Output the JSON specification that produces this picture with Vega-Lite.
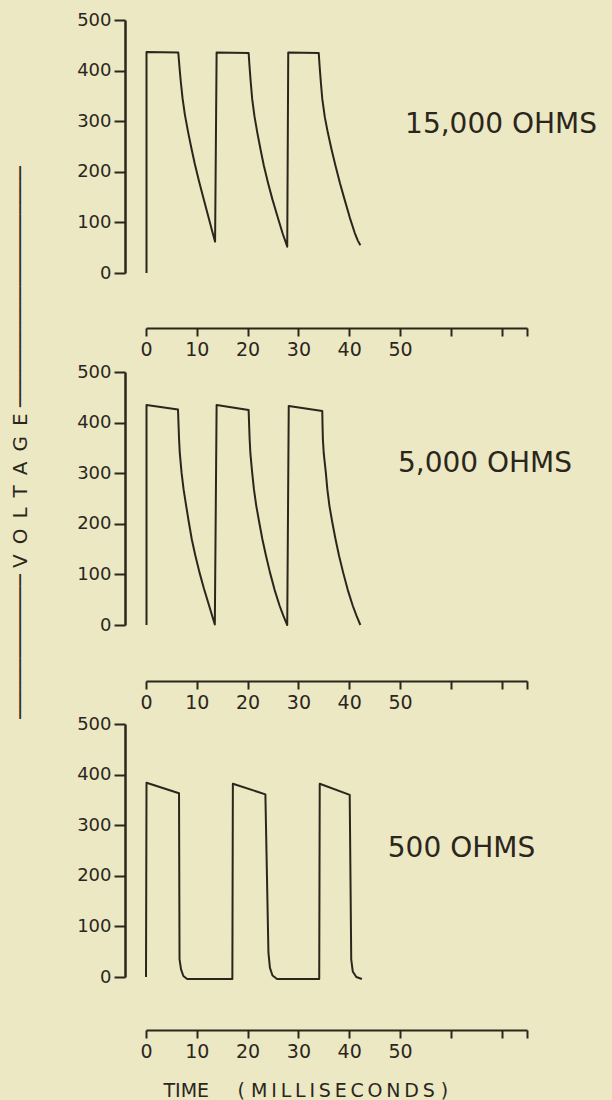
{
  "$schema": "https://vega.github.io/schema/vega-lite/v6.json",
  "autosize": {"type": "none"},
  "padding": {"left": 146, "top": 20, "right": 466, "bottom": 1080},
  "background": "#ebe8c3",
  "data": {"values": [
    {"panel": "15,000 OHMS", "i": 1, "t": 0.1, "v": 0},
    {"panel": "15,000 OHMS", "i": 2, "t": 0.1, "v": 437},
    {"panel": "15,000 OHMS", "i": 3, "t": 6.35, "v": 436},
    {"panel": "15,000 OHMS", "i": 4, "t": 6.5, "v": 418},
    {"panel": "15,000 OHMS", "i": 5, "t": 6.65, "v": 400},
    {"panel": "15,000 OHMS", "i": 6, "t": 6.85, "v": 378},
    {"panel": "15,000 OHMS", "i": 7, "t": 7.2, "v": 345},
    {"panel": "15,000 OHMS", "i": 8, "t": 7.65, "v": 313},
    {"panel": "15,000 OHMS", "i": 9, "t": 8.3, "v": 278},
    {"panel": "15,000 OHMS", "i": 10, "t": 8.95, "v": 246},
    {"panel": "15,000 OHMS", "i": 11, "t": 9.6, "v": 216},
    {"panel": "15,000 OHMS", "i": 12, "t": 10.45, "v": 181},
    {"panel": "15,000 OHMS", "i": 13, "t": 11.3, "v": 148},
    {"panel": "15,000 OHMS", "i": 14, "t": 12.2, "v": 114},
    {"panel": "15,000 OHMS", "i": 15, "t": 13.1, "v": 80},
    {"panel": "15,000 OHMS", "i": 16, "t": 13.6, "v": 62},
    {"panel": "15,000 OHMS", "i": 17, "t": 13.9, "v": 436},
    {"panel": "15,000 OHMS", "i": 18, "t": 20.2, "v": 435},
    {"panel": "15,000 OHMS", "i": 19, "t": 20.32, "v": 417},
    {"panel": "15,000 OHMS", "i": 20, "t": 20.45, "v": 399},
    {"panel": "15,000 OHMS", "i": 21, "t": 20.62, "v": 377},
    {"panel": "15,000 OHMS", "i": 22, "t": 20.9, "v": 344},
    {"panel": "15,000 OHMS", "i": 23, "t": 21.35, "v": 310},
    {"panel": "15,000 OHMS", "i": 24, "t": 21.9, "v": 278},
    {"panel": "15,000 OHMS", "i": 25, "t": 22.55, "v": 244},
    {"panel": "15,000 OHMS", "i": 26, "t": 23.2, "v": 212},
    {"panel": "15,000 OHMS", "i": 27, "t": 24.05, "v": 177},
    {"panel": "15,000 OHMS", "i": 28, "t": 24.9, "v": 145},
    {"panel": "15,000 OHMS", "i": 29, "t": 25.9, "v": 111},
    {"panel": "15,000 OHMS", "i": 30, "t": 26.9, "v": 78},
    {"panel": "15,000 OHMS", "i": 31, "t": 27.4, "v": 64},
    {"panel": "15,000 OHMS", "i": 32, "t": 27.8, "v": 52},
    {"panel": "15,000 OHMS", "i": 33, "t": 28.0, "v": 436},
    {"panel": "15,000 OHMS", "i": 34, "t": 34.0, "v": 435},
    {"panel": "15,000 OHMS", "i": 35, "t": 34.12, "v": 417},
    {"panel": "15,000 OHMS", "i": 36, "t": 34.25, "v": 399},
    {"panel": "15,000 OHMS", "i": 37, "t": 34.42, "v": 377},
    {"panel": "15,000 OHMS", "i": 38, "t": 34.7, "v": 344},
    {"panel": "15,000 OHMS", "i": 39, "t": 35.2, "v": 308},
    {"panel": "15,000 OHMS", "i": 40, "t": 35.8, "v": 277},
    {"panel": "15,000 OHMS", "i": 41, "t": 36.55, "v": 243},
    {"panel": "15,000 OHMS", "i": 42, "t": 37.3, "v": 212},
    {"panel": "15,000 OHMS", "i": 43, "t": 38.2, "v": 177},
    {"panel": "15,000 OHMS", "i": 44, "t": 39.1, "v": 145},
    {"panel": "15,000 OHMS", "i": 45, "t": 40.1, "v": 110},
    {"panel": "15,000 OHMS", "i": 46, "t": 41.1, "v": 79},
    {"panel": "15,000 OHMS", "i": 47, "t": 41.7, "v": 64},
    {"panel": "15,000 OHMS", "i": 48, "t": 42.2, "v": 55},

    {"panel": "5,000 OHMS", "i": 1, "t": 0.1, "v": 0},
    {"panel": "5,000 OHMS", "i": 2, "t": 0.1, "v": 435},
    {"panel": "5,000 OHMS", "i": 3, "t": 6.3, "v": 426},
    {"panel": "5,000 OHMS", "i": 4, "t": 6.4, "v": 397},
    {"panel": "5,000 OHMS", "i": 5, "t": 6.5, "v": 369},
    {"panel": "5,000 OHMS", "i": 6, "t": 6.65, "v": 340},
    {"panel": "5,000 OHMS", "i": 7, "t": 7.0, "v": 301},
    {"panel": "5,000 OHMS", "i": 8, "t": 7.4, "v": 268},
    {"panel": "5,000 OHMS", "i": 9, "t": 7.9, "v": 236},
    {"panel": "5,000 OHMS", "i": 10, "t": 8.4, "v": 205},
    {"panel": "5,000 OHMS", "i": 11, "t": 9.0, "v": 170},
    {"panel": "5,000 OHMS", "i": 12, "t": 9.7, "v": 138},
    {"panel": "5,000 OHMS", "i": 13, "t": 10.5, "v": 105},
    {"panel": "5,000 OHMS", "i": 14, "t": 11.4, "v": 72},
    {"panel": "5,000 OHMS", "i": 15, "t": 12.4, "v": 39},
    {"panel": "5,000 OHMS", "i": 16, "t": 13.0, "v": 19},
    {"panel": "5,000 OHMS", "i": 17, "t": 13.55, "v": 1},
    {"panel": "5,000 OHMS", "i": 18, "t": 13.9, "v": 435},
    {"panel": "5,000 OHMS", "i": 19, "t": 20.2, "v": 425},
    {"panel": "5,000 OHMS", "i": 20, "t": 20.3, "v": 396},
    {"panel": "5,000 OHMS", "i": 21, "t": 20.4, "v": 368},
    {"panel": "5,000 OHMS", "i": 22, "t": 20.55, "v": 339},
    {"panel": "5,000 OHMS", "i": 23, "t": 20.9, "v": 301},
    {"panel": "5,000 OHMS", "i": 24, "t": 21.25, "v": 268},
    {"panel": "5,000 OHMS", "i": 25, "t": 21.7, "v": 236},
    {"panel": "5,000 OHMS", "i": 26, "t": 22.25, "v": 205},
    {"panel": "5,000 OHMS", "i": 27, "t": 22.9, "v": 170},
    {"panel": "5,000 OHMS", "i": 28, "t": 23.6, "v": 138},
    {"panel": "5,000 OHMS", "i": 29, "t": 24.4, "v": 104},
    {"panel": "5,000 OHMS", "i": 30, "t": 25.3, "v": 70},
    {"panel": "5,000 OHMS", "i": 31, "t": 26.3, "v": 38},
    {"panel": "5,000 OHMS", "i": 32, "t": 27.05, "v": 18},
    {"panel": "5,000 OHMS", "i": 33, "t": 27.8, "v": 0},
    {"panel": "5,000 OHMS", "i": 34, "t": 28.1, "v": 433},
    {"panel": "5,000 OHMS", "i": 35, "t": 34.7, "v": 423},
    {"panel": "5,000 OHMS", "i": 36, "t": 34.75, "v": 395},
    {"panel": "5,000 OHMS", "i": 37, "t": 34.82, "v": 367},
    {"panel": "5,000 OHMS", "i": 38, "t": 35.0, "v": 338},
    {"panel": "5,000 OHMS", "i": 39, "t": 35.4, "v": 301},
    {"panel": "5,000 OHMS", "i": 40, "t": 35.7, "v": 268},
    {"panel": "5,000 OHMS", "i": 41, "t": 36.1, "v": 236},
    {"panel": "5,000 OHMS", "i": 42, "t": 36.65, "v": 204},
    {"panel": "5,000 OHMS", "i": 43, "t": 37.3, "v": 170},
    {"panel": "5,000 OHMS", "i": 44, "t": 38.0, "v": 137},
    {"panel": "5,000 OHMS", "i": 45, "t": 38.8, "v": 104},
    {"panel": "5,000 OHMS", "i": 46, "t": 39.7, "v": 70},
    {"panel": "5,000 OHMS", "i": 47, "t": 40.7, "v": 38},
    {"panel": "5,000 OHMS", "i": 48, "t": 41.45, "v": 18},
    {"panel": "5,000 OHMS", "i": 49, "t": 42.2, "v": 0},

    {"panel": "500 OHMS", "i": 1, "t": 0.0, "v": 0},
    {"panel": "500 OHMS", "i": 2, "t": 0.1, "v": 384},
    {"panel": "500 OHMS", "i": 3, "t": 6.5, "v": 363},
    {"panel": "500 OHMS", "i": 4, "t": 6.6, "v": 35},
    {"panel": "500 OHMS", "i": 5, "t": 6.9, "v": 15},
    {"panel": "500 OHMS", "i": 6, "t": 7.35, "v": 2},
    {"panel": "500 OHMS", "i": 7, "t": 8.1, "v": -4},
    {"panel": "500 OHMS", "i": 8, "t": 17.0, "v": -4},
    {"panel": "500 OHMS", "i": 9, "t": 17.1, "v": 382},
    {"panel": "500 OHMS", "i": 10, "t": 23.5, "v": 361},
    {"panel": "500 OHMS", "i": 11, "t": 24.1, "v": 48},
    {"panel": "500 OHMS", "i": 12, "t": 24.4, "v": 18},
    {"panel": "500 OHMS", "i": 13, "t": 24.9, "v": 3},
    {"panel": "500 OHMS", "i": 14, "t": 25.8, "v": -4},
    {"panel": "500 OHMS", "i": 15, "t": 34.1, "v": -4},
    {"panel": "500 OHMS", "i": 16, "t": 34.2, "v": 382},
    {"panel": "500 OHMS", "i": 17, "t": 40.1, "v": 360},
    {"panel": "500 OHMS", "i": 18, "t": 40.4, "v": 35},
    {"panel": "500 OHMS", "i": 19, "t": 40.7, "v": 11},
    {"panel": "500 OHMS", "i": 20, "t": 41.4, "v": 0},
    {"panel": "500 OHMS", "i": 21, "t": 42.5, "v": -4}
  ]},
  "spacing": 99,
  "bounds": "flush",
  "vconcat": [
    {
      "width": 381, "height": 253,
      "transform": [{"filter": "datum.panel === '15,000 OHMS'"}],
      "layer": [
        {
          "mark": {"type": "line", "color": "#2b261c", "strokeWidth": 2, "clip": false, "strokeJoin": "round"},
          "encoding": {
            "x": {"field": "t", "type": "quantitative", "scale": {"domain": [0, 75], "nice": false, "zero": false},
                  "axis": {"title": null, "offset": 55, "values": [0, 10, 20, 30, 40, 50, 60, 70, 75], "labelExpr": "datum.value <= 50 ? datum.label : ''"}},
            "y": {"field": "v", "type": "quantitative", "scale": {"domain": [0, 500], "nice": false},
                  "axis": {"title": null, "values": [0, 100, 200, 300, 400, 500]}},
            "order": {"field": "i", "type": "quantitative"}
          }
        },
        {
          "transform": [{"aggregate": [{"op": "count", "as": "n"}], "groupby": ["panel"]}],
          "mark": {"type": "text", "align": "left", "baseline": "alphabetic", "fontSize": 28, "color": "#2b261c", "font": "DejaVu Sans"},
          "encoding": {"x": {"datum": 51.0}, "y": {"datum": 277}, "text": {"field": "panel"}}
        }
      ]
    },
    {
      "width": 381, "height": 253,
      "transform": [{"filter": "datum.panel === '5,000 OHMS'"}],
      "layer": [
        {
          "mark": {"type": "line", "color": "#2b261c", "strokeWidth": 2, "clip": false, "strokeJoin": "round"},
          "encoding": {
            "x": {"field": "t", "type": "quantitative", "scale": {"domain": [0, 75], "nice": false, "zero": false},
                  "axis": {"title": null, "offset": 56, "values": [0, 10, 20, 30, 40, 50, 60, 70, 75], "labelExpr": "datum.value <= 50 ? datum.label : ''"}},
            "y": {"field": "v", "type": "quantitative", "scale": {"domain": [0, 500], "nice": false},
                  "axis": {"values": [0, 100, 200, 300, 400, 500],
                           "title": "\u2500\u2500\u2500\u2500\u2500\u2500\u2500\u2500\u2500\u2500\u2500\u2500 V\u2002O\u2002L\u2002T\u2002A\u2002G\u2002E \u2500\u2500\u2500\u2500\u2500\u2500\u2500\u2500\u2500\u2500\u2500\u2500\u2500\u2500\u2500\u2500\u2500\u2500\u2500\u2500",
                           "titleFontSize": 20, "titleX": -99, "titleY": 70, "titleAngle": 270, "titleAlign": "center", "titleBaseline": "alphabetic"}},
            "order": {"field": "i", "type": "quantitative"}
          }
        },
        {
          "transform": [{"aggregate": [{"op": "count", "as": "n"}], "groupby": ["panel"]}],
          "mark": {"type": "text", "align": "left", "baseline": "alphabetic", "fontSize": 28, "color": "#2b261c", "font": "DejaVu Sans"},
          "encoding": {"x": {"datum": 49.6}, "y": {"datum": 302}, "text": {"field": "panel"}}
        }
      ]
    },
    {
      "width": 381, "height": 253,
      "transform": [{"filter": "datum.panel === '500 OHMS'"}],
      "layer": [
        {
          "mark": {"type": "line", "color": "#2b261c", "strokeWidth": 2, "clip": false, "strokeJoin": "round"},
          "encoding": {
            "x": {"field": "t", "type": "quantitative", "scale": {"domain": [0, 75], "nice": false, "zero": false},
                  "axis": {"offset": 53, "values": [0, 10, 20, 30, 40, 50, 60, 70, 75], "labelExpr": "datum.value <= 50 ? datum.label : ''",
                           "title": "TIME\u2002\u2002\u2002( M\u2009I\u2009L\u2009L\u2009I\u2009S\u2009E\u2009C\u2009O\u2009N\u2009D\u2009S )",
                           "titleFontSize": 19, "titleX": 17, "titleY": 66, "titleAngle": 0, "titleAlign": "left", "titleBaseline": "alphabetic"}},
            "y": {"field": "v", "type": "quantitative", "scale": {"domain": [0, 500], "nice": false},
                  "axis": {"title": null, "values": [0, 100, 200, 300, 400, 500]}},
            "order": {"field": "i", "type": "quantitative"}
          }
        },
        {
          "transform": [{"aggregate": [{"op": "count", "as": "n"}], "groupby": ["panel"]}],
          "mark": {"type": "text", "align": "left", "baseline": "alphabetic", "fontSize": 28, "color": "#2b261c", "font": "DejaVu Sans"},
          "encoding": {"x": {"datum": 47.6}, "y": {"datum": 238}, "text": {"field": "panel"}}
        }
      ]
    }
  ],
  "config": {
    "view": {"stroke": null},
    "font": "DejaVu Sans",
    "axis": {"grid": false, "domainColor": "#2b261c", "tickColor": "#2b261c", "labelColor": "#2b261c", "titleColor": "#2b261c",
             "labelFont": "DejaVu Sans", "titleFont": "DejaVu Sans", "titleFontWeight": "normal"},
    "axisX": {"tickSize": 8, "tickWidth": 2, "domainWidth": 2, "labelFontSize": 19, "labelPadding": 4, "labelOverlap": false, "labelFlush": false, "labelBound": false},
    "axisY": {"tickSize": 11, "tickWidth": 2, "domainWidth": 2.5, "labelFontSize": 18, "labelPadding": 3, "offset": 21, "labelOverlap": false, "labelFlush": false, "labelBound": false}
  }
}
